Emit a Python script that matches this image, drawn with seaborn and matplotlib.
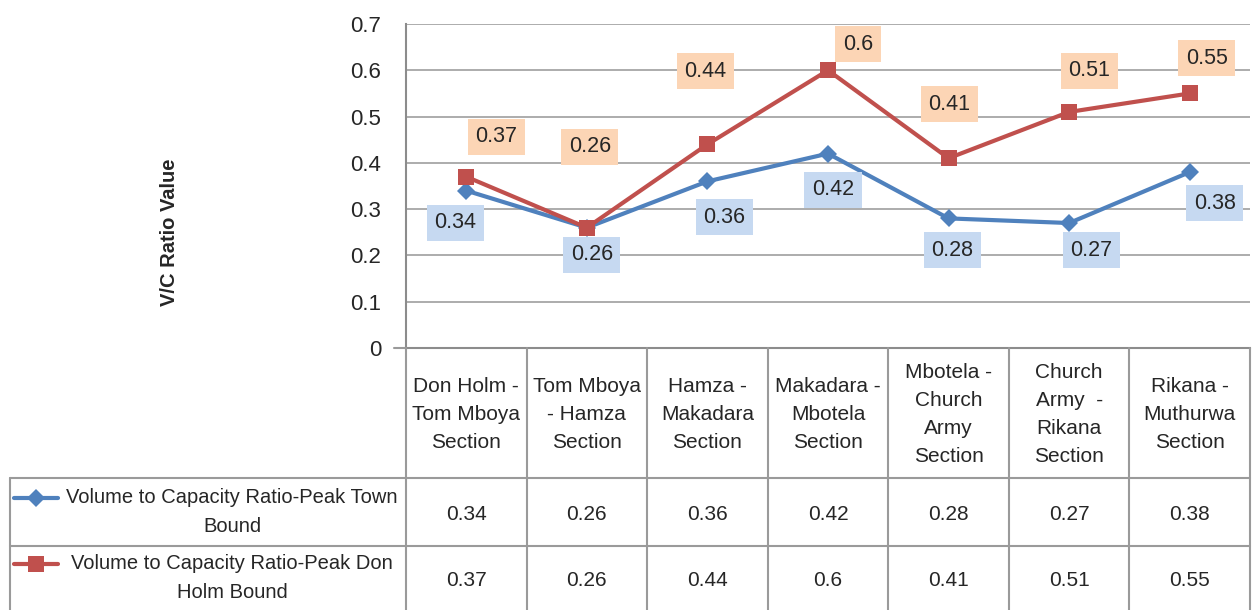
import matplotlib
matplotlib.use("Agg")
import matplotlib.pyplot as plt
import seaborn as sns
import pandas as pd
from matplotlib.lines import Line2D

categories = ["Don Holm -\nTom Mboya\nSection", "Tom Mboya\n- Hamza\nSection",
              "Hamza -\nMakadara\nSection", "Makadara -\nMbotela\nSection",
              "Mbotela -\nChurch\nArmy\nSection", "Church\nArmy  -\nRikana\nSection",
              "Rikana -\nMuthurwa\nSection"]
town_bound = [0.34, 0.26, 0.36, 0.42, 0.28, 0.27, 0.38]
don_holm_bound = [0.37, 0.26, 0.44, 0.60, 0.41, 0.51, 0.55]
series_names = ["Volume to Capacity Ratio-Peak Town\nBound",
                "Volume to Capacity Ratio-Peak Don\nHolm Bound"]
yticks = [0, 0.1, 0.2, 0.3, 0.4, 0.5, 0.6, 0.7]

# label offsets in pixels (style only)
town_off = [(-11, -32), (5, -27), (17, -36), (5, -36), (4, -32), (22, -27), (25, -31)]
don_off = [(30, 40), (3, 81), (-2, 73), (30, 26), (1, 54), (20, 41), (17, 35)]

sns.set_style("white")
plt.rcParams['font.family'] = ['Liberation Sans Narrow', 'Liberation Sans', 'DejaVu Sans']

W, H = 1252, 610
fig = plt.figure(figsize=(W / 100, H / 100), dpi=100)
L, R, T, B = 406, 1250, 24, 348
ax = fig.add_axes([L / W, 1 - B / H, (R - L) / W, (B - T) / H])

blue = "#4F81BD"
red = "#C0504D"
n = len(categories)
df = pd.DataFrame({"x": list(range(n)) * 2,
                   "v": town_bound + don_holm_bound,
                   "s": ["town"] * n + ["don"] * n})
sns.lineplot(data=df[df.s == "town"], x="x", y="v", ax=ax, color=blue, lw=3,
             marker="D", markersize=9, markeredgewidth=0)
sns.lineplot(data=df[df.s == "don"], x="x", y="v", ax=ax, color=red, lw=3,
             marker="s", markersize=11, markeredgewidth=0)

ax.set_xlim(-0.5, n - 0.5)
ax.set_ylim(0, 0.7)
ax.set_yticks(yticks)
ax.set_yticklabels([f"{t:g}" for t in yticks], fontsize=16)
ax.set_xticks([])
ax.set_xlabel("")
ax.set_ylabel("")
ax.yaxis.grid(True, color="#A6A6A6", lw=1.3)
ax.tick_params(axis="y", left=False, length=0, pad=18)
for s in ["top", "right"]:
    ax.spines[s].set_visible(False)
for s in ["left", "bottom"]:
    ax.spines[s].set_color("#8C8C8C")
    ax.spines[s].set_linewidth(1.5)

for i, v in enumerate(town_bound):
    ax.annotate(f"{v:g}", (i, v), xytext=town_off[i], textcoords="offset pixels",
                ha="center", va="center", fontsize=15.5,
                bbox=dict(boxstyle="square,pad=0.35", fc="#C6D9F1", ec="none"))
for i, v in enumerate(don_holm_bound):
    ax.annotate(f"{v:g}", (i, v), xytext=don_off[i], textcoords="offset pixels",
                ha="center", va="center", fontsize=15.5,
                bbox=dict(boxstyle="square,pad=0.35", fc="#FCD5B5", ec="none"))

fig.text(170 / W, 1 - 232 / H, "V/C Ratio Value", rotation=90, ha="center", va="center",
         fontsize=14.5, fontweight="bold")

# data table
gc = "#9A9A9A"
def fx(px): return px / W
def fy(py): return 1 - py / H
col_w = (R - L) / n
row1, row2, bottom = 478, 546, 610
lines = [([394, L], [B, B])]
for k in range(n + 1):
    x = L + k * col_w
    lines.append(([x, x], [B, bottom]))
lines.append(([10, R], [row1, row1]))
lines.append(([10, R], [row2, row2]))
lines.append(([10, 10], [row1, bottom]))
for xs, ys in lines:
    fig.add_artist(Line2D([fx(v) for v in xs], [fy(v) for v in ys], color=gc, lw=1.5))

for k, cat in enumerate(categories):
    cx = L + (k + 0.5) * col_w
    fig.text(fx(cx), fy((B + row1) / 2 + 1), cat, ha="center", va="center", fontsize=15,
             linespacing=1.6)
    fig.text(fx(cx), fy((row1 + row2) / 2 + 2), f"{town_bound[k]:g}", ha="center", va="center", fontsize=15)
    fig.text(fx(cx), fy((row2 + bottom) / 2 + 2), f"{don_holm_bound[k]:g}", ha="center", va="center", fontsize=15)

for (name, color, mk, ms), (ya, yb) in zip(
        [(series_names[0], blue, "D", 9), (series_names[1], red, "s", 11)],
        [(row1, row2), (row2, bottom)]):
    ym = fy((ya + yb) / 2)
    yl = fy((ya + yb) / 2 - 14)
    fig.add_artist(Line2D([fx(14), fx(58)], [yl, yl], color=color, lw=3))
    fig.add_artist(Line2D([fx(36)], [yl], color=color, marker=mk, markersize=ms, markeredgewidth=0))
    fig.text(fx(232), ym, name, ha="center", va="center", fontsize=14.5, linespacing=1.65)

fig.savefig("out.png", dpi=100)
